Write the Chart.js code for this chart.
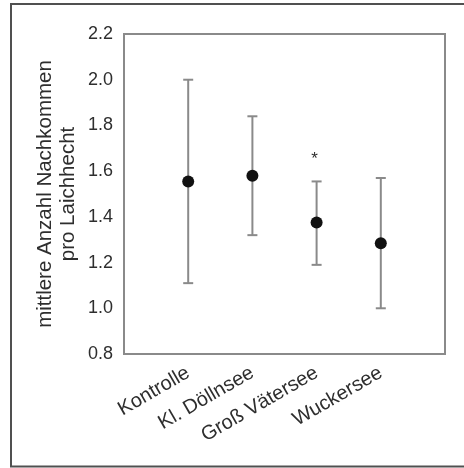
<!DOCTYPE html>
<html>
<head>
<meta charset="utf-8">
<script src="https://cdn.jsdelivr.net/npm/chart.js@4"></script>
<style>
html,body{margin:0;padding:0;background:#fff;}
#wrap{position:relative;width:464px;height:468px;}
</style>
</head>
<body>
<div id="wrap"><canvas id="c" width="464" height="468"></canvas></div>
<script>
const categories = ['Kontrolle', 'Kl. Döllnsee', 'Groß Vätersee', 'Wuckersee'];
const means = [1.555, 1.58, 1.375, 1.285];
const upper = [2.0, 1.84, 1.555, 1.57];
const lower = [1.11, 1.32, 1.19, 1.0];
const significance = ['', '', '*', ''];
const sigLevel = [null, null, 1.67, null];
const yTicks = [0.8, 1.0, 1.2, 1.4, 1.6, 1.8, 2.0, 2.2];
const yTitle = ['mittlere Anzahl Nachkommen', 'pro Laichhecht'];

const FONT = '"Liberation Sans", Arial, sans-serif';
const GRAY = '#8a8a8a';
const TEXT = '#2e2e2e';

const datasets = [];
categories.forEach((c, i) => {
  datasets.push({
    type: 'line',
    data: [{x: i + 1, y: lower[i]}, {x: i + 1, y: upper[i]}],
    borderColor: GRAY, borderWidth: 2, pointRadius: 0, showLine: true,
    order: 3
  });
});
datasets.push({
  type: 'scatter',
  data: categories.flatMap((c, i) => [{x: i + 1, y: lower[i]}, {x: i + 1, y: upper[i]}]),
  pointStyle: 'line', pointRadius: 5, borderColor: GRAY, borderWidth: 2,
  order: 2
});
datasets.push({
  type: 'scatter',
  data: categories.map((c, i) => ({x: i + 1, y: means[i]})),
  pointStyle: 'circle', pointRadius: 6, backgroundColor: '#111', borderColor: '#111', borderWidth: 0,
  order: 1
});

const framePlugin = {
  id: 'frame',
  beforeDraw(chart) {
    const ctx = chart.ctx;
    ctx.save();
    ctx.strokeStyle = '#505050';
    ctx.lineWidth = 2;
    ctx.beginPath();
    ctx.moveTo(470, 4); ctx.lineTo(11, 4); ctx.lineTo(11, 466.5); ctx.lineTo(470, 466.5);
    ctx.stroke();
    ctx.restore();
  },
  afterDatasetsDraw(chart) {
    const ctx = chart.ctx, a = chart.chartArea;
    ctx.save();
    ctx.strokeStyle = GRAY;
    ctx.lineWidth = 2;
    ctx.beginPath();
    ctx.moveTo(a.left, a.top); ctx.lineTo(a.right, a.top); ctx.lineTo(a.right, a.bottom);
    ctx.stroke();
    const xs = chart.scales.x, ys = chart.scales.y;
    ctx.fillStyle = TEXT;
    ctx.font = '17px ' + FONT;
    ctx.textAlign = 'center';
    ctx.textBaseline = 'middle';
    significance.forEach((s, i) => {
      if (s && sigLevel[i] != null) {
        ctx.fillText(s, xs.getPixelForValue(i + 1) - 2, ys.getPixelForValue(sigLevel[i]) + 4);
      }
    });
    ctx.restore();
  }
};

new Chart(document.getElementById('c'), {
  data: {datasets},
  plugins: [framePlugin],
  options: {
    responsive: false,
    animation: false,
    layout: {padding: {left: 0, top: 34, right: 19, bottom: 0}},
    plugins: {legend: {display: false}, tooltip: {enabled: false}},
    scales: {
      x: {
        type: 'linear', min: 0, max: 5,
        afterBuildTicks(scale) { scale.ticks = categories.map((c, i) => ({value: i + 1})); },
        afterFit(scale) { scale.height = 114; },
        grid: {display: false, drawTicks: true, tickLength: 6, tickColor: GRAY, tickWidth: 2},
        border: {display: true, color: GRAY, width: 2},
        ticks: {
          autoSkip: false, maxRotation: 30, minRotation: 30,
          color: TEXT, font: {family: FONT, size: 20}, padding: 1,
          callback(v) { return categories[v - 1] || ''; }
        }
      },
      y: {
        type: 'linear', min: 0.8, max: 2.2,
        afterBuildTicks(scale) { scale.ticks = yTicks.map(v => ({value: v})); },
        afterFit(scale) { scale.width = 124; },
        grid: {display: false, drawTicks: true, tickLength: 6, tickColor: GRAY, tickWidth: 2},
        border: {display: true, color: GRAY, width: 2},
        ticks: {
          color: TEXT, font: {family: FONT, size: 18}, padding: 5,
          callback(v) { return v.toFixed(1); }
        },
        title: {
          display: true, text: yTitle, color: TEXT,
          font: {family: FONT, size: 20.5, lineHeight: 1.12}, padding: {top: 34, bottom: 0}
        }
      }
    }
  }
});
</script>
</body>
</html>
